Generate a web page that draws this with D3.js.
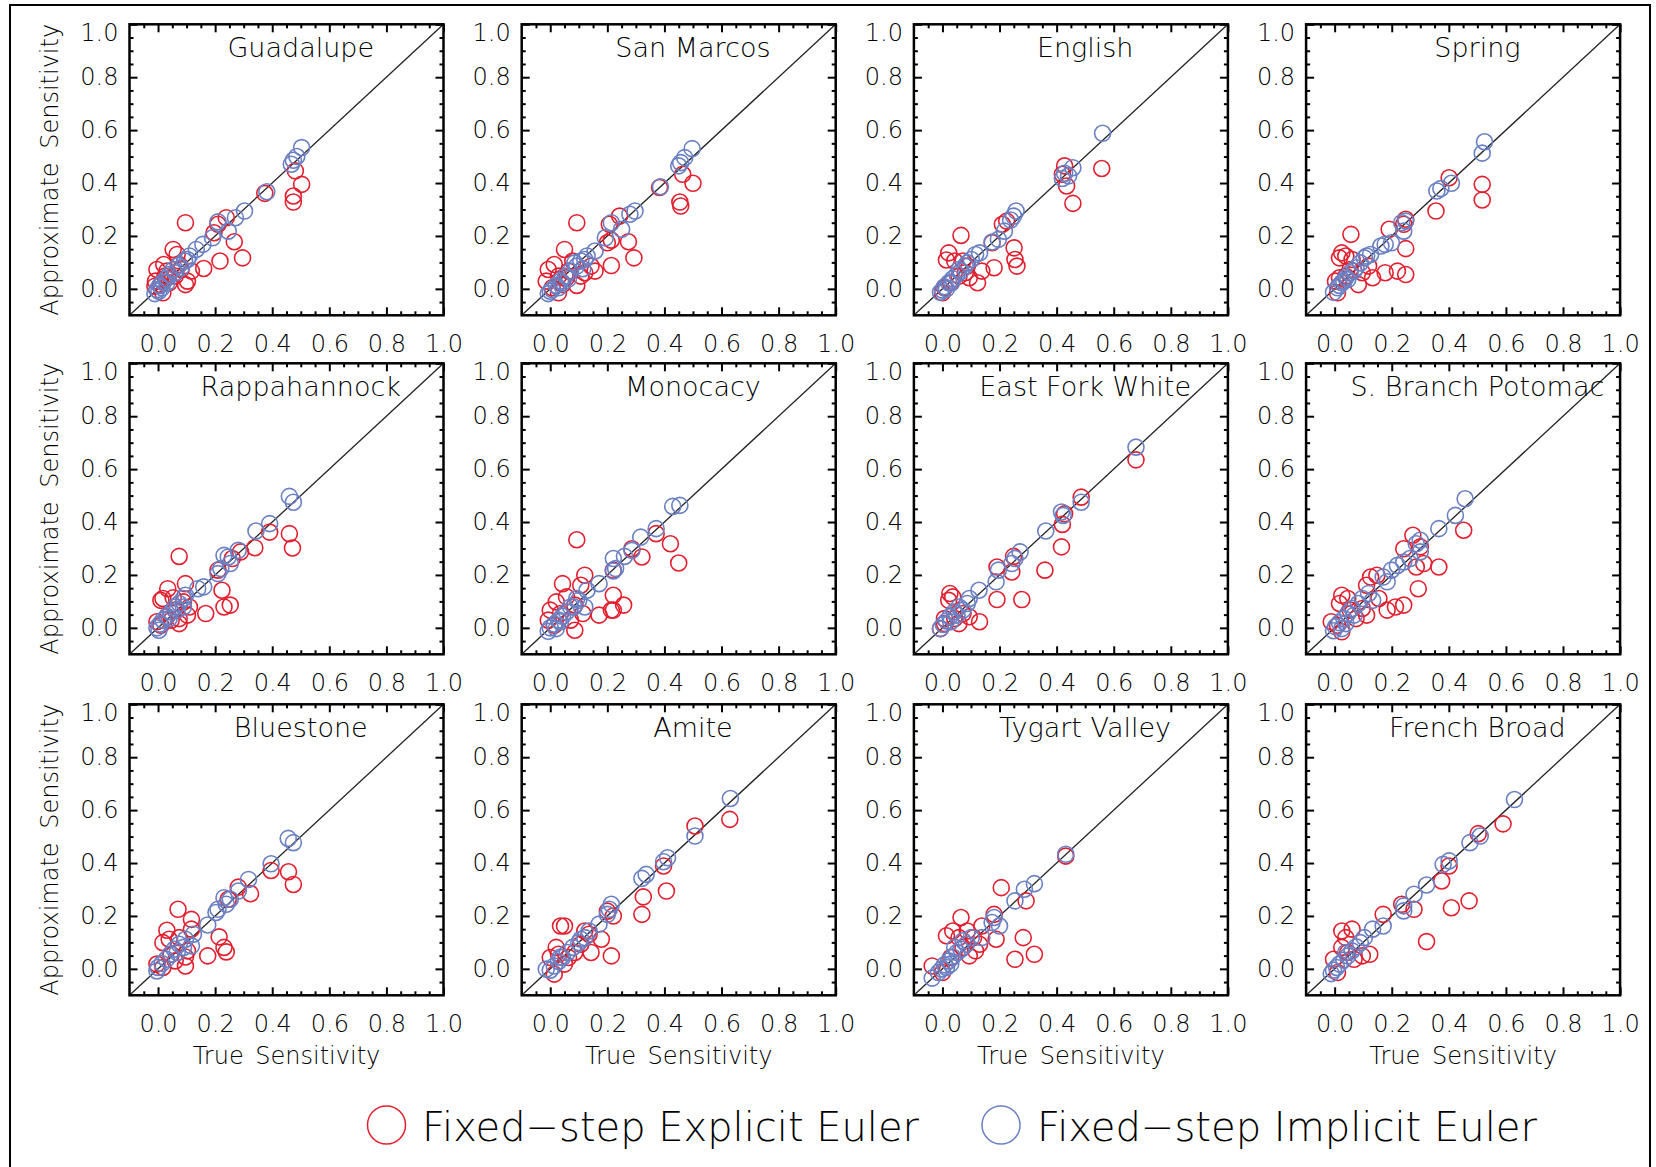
<!DOCTYPE html>
<html>
<head>
<meta charset="utf-8">
<script src="https://cdn.jsdelivr.net/npm/d3@7"></script>
<style>
  body { margin: 0; background: #fff; }
  svg text { font-family: "DejaVu Sans", sans-serif; font-weight: 200; fill: #000; }
</style>
</head>
<body>
<div id="chart"></div>
<script>
// river basins, one panel each (row by row)
var basins = ["Guadalupe", "San Marcos", "English", "Spring",
              "Rappahannock", "Monocacy", "East Fork White", "S. Branch Potomac",
              "Bluestone", "Amite", "Tygart Valley", "French Broad"];

var tickLabels = [0.0, 0.2, 0.4, 0.6, 0.8, 1.0];
var minorTicks = [-0.05, 0.05, 0.1, 0.15, 0.25, 0.3, 0.35, 0.45, 0.5, 0.55, 0.65, 0.7, 0.75, 0.85, 0.9, 0.95];

var seriesNames = ["Fixed\u2212step Explicit Euler", "Fixed\u2212step Implicit Euler"];

// [true sensitivity, approximate sensitivity] - explicit Euler
var explicitEuler = [
  [[0.096,0.250],[0.053,0.149],[0.217,0.105],[0.296,0.117],[0.267,0.178],[0.160,0.077],[0.096,0.016],[-0.004,0.073],[0.020,0.092],[0.024,0.048],[-0.009,0.029],[0.017,-0.015],[0.474,0.351],[0.474,0.328],[0.503,0.395],[0.481,0.446],[0.374,0.361],[0.210,0.244],[0.239,0.269],[0.117,0.067],[0.067,0.130],[0.039,0.023],[0.103,0.029],[0.060,0.048],[0.081,0.073],[0.010,0.016],[0.031,0.067],[-0.011,0.010],[0.196,0.212],[0.074,0.092]],
  [[0.093,0.250],[0.050,0.149],[0.214,0.088],[0.293,0.117],[0.274,0.178],[0.157,0.067],[0.093,0.013],[-0.007,0.073],[0.014,0.092],[0.029,0.048],[-0.014,0.029],[0.029,-0.015],[0.454,0.328],[0.457,0.313],[0.500,0.399],[0.464,0.433],[0.383,0.383],[0.207,0.244],[0.243,0.275],[0.214,0.184],[0.107,0.048],[0.064,0.067],[0.043,0.016],[0.121,0.061],[0.079,0.105],[0.007,0.004],[0.200,0.174],[0.143,0.086],[0.057,0.042]],
  [[0.065,0.202],[0.022,0.136],[0.014,0.109],[0.043,0.105],[0.181,0.080],[0.123,0.023],[0.138,0.067],[0.251,0.155],[0.254,0.111],[0.261,0.086],[0.210,0.244],[0.225,0.256],[0.428,0.465],[0.435,0.389],[0.457,0.323],[0.558,0.455],[0.080,0.061],[0.094,0.042],[0.007,0.004],[0.000,-0.015],[0.058,0.048],[0.029,0.023],[0.087,0.086],[0.420,0.433],[0.174,0.174],[0.072,0.105]],
  [[0.057,0.206],[0.025,0.136],[0.039,0.124],[0.017,0.117],[0.061,0.111],[0.177,0.061],[0.220,0.067],[0.249,0.054],[0.133,0.042],[0.083,0.016],[0.191,0.225],[0.242,0.244],[0.249,0.263],[0.249,0.152],[0.355,0.294],[0.401,0.420],[0.517,0.395],[0.517,0.336],[0.003,0.029],[0.017,0.042],[0.097,0.061],[0.039,0.048],[0.010,-0.015],[0.119,0.086],[0.054,0.073]],
  [[0.074,0.270],[0.034,0.148],[0.017,0.111],[0.096,0.167],[0.053,0.114],[0.224,0.142],[0.231,0.079],[0.253,0.086],[0.167,0.054],[0.103,0.048],[0.074,0.016],[0.339,0.303],[0.289,0.287],[0.260,0.262],[0.391,0.362],[0.460,0.356],[0.471,0.302],[0.210,0.218],[-0.004,0.023],[0.010,0.010],[0.031,0.042],[0.060,0.067],[0.089,0.098],[0.110,0.079],[0.046,0.029],[0.010,0.104],[0.074,0.035]],
  [[0.093,0.333],[0.043,0.167],[0.121,0.199],[0.107,0.161],[0.021,0.098],[0.057,0.117],[0.221,0.123],[0.221,0.067],[0.257,0.086],[0.171,0.048],[0.086,-0.009],[0.071,0.029],[0.321,0.268],[0.286,0.299],[0.371,0.356],[0.421,0.318],[0.450,0.245],[0.221,0.218],[0.214,0.067],[-0.007,0.029],[0.014,0.010],[0.036,0.054],[0.086,0.086],[0.114,0.054],[0.000,0.067]],
  [[0.678,0.635],[0.486,0.494],[0.420,0.391],[0.417,0.306],[0.359,0.218],[0.249,0.270],[0.243,0.211],[0.191,0.230],[0.191,0.107],[0.278,0.107],[0.026,0.130],[0.022,0.104],[0.036,0.117],[0.130,0.023],[0.094,0.042],[0.058,0.016],[0.007,0.016],[-0.007,-0.003],[0.072,0.054],[0.043,0.035],[0.428,0.431],[0.007,0.035]],
  [[0.452,0.369],[0.365,0.230],[0.312,0.243],[0.293,0.148],[0.300,0.306],[0.274,0.350],[0.242,0.299],[0.213,0.079],[0.184,0.067],[0.242,0.086],[0.148,0.199],[0.126,0.192],[0.112,0.161],[0.025,0.123],[0.017,0.092],[0.046,0.111],[0.112,0.048],[0.075,0.035],[0.010,0.010],[0.025,-0.015],[0.097,0.073],[0.054,0.067],[-0.012,0.023],[0.286,0.230],[0.155,0.111]],
  [[0.070,0.225],[0.117,0.187],[0.117,0.150],[0.031,0.146],[0.017,0.099],[0.039,0.112],[0.074,0.118],[0.214,0.121],[0.231,0.081],[0.239,0.064],[0.174,0.049],[0.096,0.011],[0.096,0.045],[0.060,0.030],[0.324,0.284],[0.281,0.309],[0.396,0.372],[0.457,0.367],[0.474,0.319],[-0.004,0.018],[0.017,0.005],[0.046,0.055],[0.103,0.068],[0.246,0.263]],
  [[0.036,0.162],[0.050,0.162],[0.021,0.081],[0.000,0.043],[0.014,-0.020],[0.143,0.062],[0.179,0.112],[0.214,0.049],[0.121,0.143],[0.221,0.200],[0.326,0.272],[0.321,0.206],[0.407,0.294],[0.397,0.389],[0.507,0.540],[0.629,0.565],[0.064,0.043],[0.050,0.018],[0.086,0.062],[0.107,0.093],[0.029,0.055],[0.136,0.131],[0.200,0.218]],
  [[0.432,0.426],[0.206,0.307],[0.293,0.257],[0.283,0.118],[0.322,0.055],[0.254,0.036],[0.188,0.112],[0.138,0.162],[0.065,0.194],[0.014,0.125],[0.036,0.143],[0.058,0.118],[0.109,0.118],[0.116,0.068],[-0.036,0.011],[0.029,0.043],[0.072,0.081],[0.000,-0.014],[0.087,0.143],[0.181,0.206],[0.094,0.049],[0.130,0.093]],
  [[0.590,0.548],[0.503,0.511],[0.471,0.257],[0.409,0.231],[0.375,0.332],[0.322,0.103],[0.278,0.225],[0.235,0.244],[0.170,0.206],[0.123,0.055],[0.097,0.049],[0.061,0.150],[0.025,0.143],[0.039,0.118],[-0.004,0.036],[0.010,-0.014],[0.046,0.062],[0.068,0.036],[0.401,0.389],[0.025,0.081]]
];

// [true sensitivity, approximate sensitivity] - implicit Euler
var implicitEuler = [
  [[0.503,0.534],[0.486,0.500],[0.474,0.486],[0.467,0.471],[0.381,0.367],[0.303,0.294],[0.271,0.269],[0.246,0.218],[0.210,0.253],[0.191,0.193],[0.157,0.168],[0.134,0.149],[0.110,0.124],[0.093,0.105],[0.071,0.088],[0.053,0.073],[0.039,0.054],[0.029,0.038],[0.017,0.025],[0.006,0.013],[-0.004,-0.003],[-0.011,-0.018],[0.081,0.080],[0.060,0.061],[0.031,0.023],[0.014,0.004],[0.103,0.111],[0.003,-0.009]],
  [[0.497,0.530],[0.471,0.496],[0.457,0.477],[0.450,0.465],[0.386,0.386],[0.297,0.294],[0.279,0.282],[0.250,0.225],[0.214,0.250],[0.193,0.193],[0.157,0.143],[0.129,0.124],[0.107,0.105],[0.093,0.086],[0.071,0.067],[0.054,0.048],[0.036,0.029],[0.021,0.013],[0.007,-0.003],[-0.007,-0.018],[0.086,0.098],[0.064,0.038],[0.043,0.023],[0.121,0.111],[0.029,0.004],[0.000,-0.009],[0.114,0.076]],
  [[0.561,0.588],[0.457,0.458],[0.428,0.437],[0.420,0.417],[0.442,0.427],[0.258,0.294],[0.249,0.275],[0.239,0.260],[0.217,0.218],[0.196,0.187],[0.174,0.177],[0.130,0.136],[0.101,0.111],[0.080,0.086],[0.065,0.067],[0.051,0.054],[0.036,0.038],[0.022,0.023],[0.007,0.008],[0.000,-0.005],[0.014,0.000],[0.032,0.023],[0.087,0.098],[0.116,0.130],[0.058,0.073],[-0.007,-0.013]],
  [[0.525,0.556],[0.517,0.513],[0.409,0.399],[0.372,0.379],[0.358,0.370],[0.249,0.256],[0.235,0.250],[0.242,0.218],[0.199,0.174],[0.177,0.168],[0.162,0.162],[0.126,0.130],[0.104,0.117],[0.090,0.098],[0.075,0.080],[0.054,0.061],[0.039,0.042],[0.025,0.023],[0.010,0.004],[-0.004,-0.013],[0.017,0.013],[0.068,0.067],[0.112,0.124],[0.046,0.035],[0.032,0.029]],
  [[0.460,0.497],[0.474,0.475],[0.391,0.394],[0.343,0.366],[0.281,0.293],[0.246,0.268],[0.231,0.274],[0.253,0.243],[0.220,0.224],[0.210,0.205],[0.160,0.155],[0.139,0.148],[0.096,0.123],[0.089,0.111],[0.074,0.092],[0.060,0.079],[0.046,0.060],[0.031,0.044],[0.017,0.029],[0.006,0.014],[-0.004,0.000],[0.003,-0.009],[0.089,0.079],[0.067,0.067],[0.039,0.035]],
  [[0.429,0.459],[0.454,0.463],[0.371,0.375],[0.317,0.343],[0.286,0.293],[0.260,0.270],[0.221,0.262],[0.229,0.224],[0.221,0.215],[0.171,0.167],[0.129,0.142],[0.121,0.079],[0.093,0.111],[0.071,0.079],[0.057,0.060],[0.043,0.044],[0.029,0.029],[0.014,0.014],[0.000,0.000],[-0.007,-0.013],[0.100,0.104],[0.083,0.079],[0.036,0.023],[0.021,-0.003]],
  [[0.678,0.683],[0.486,0.475],[0.417,0.438],[0.423,0.425],[0.362,0.366],[0.272,0.287],[0.254,0.262],[0.243,0.243],[0.196,0.218],[0.188,0.174],[0.128,0.142],[0.094,0.111],[0.087,0.092],[0.058,0.079],[0.041,0.060],[0.026,0.042],[0.014,0.026],[0.003,0.013],[-0.007,-0.003],[0.072,0.067],[0.051,0.048],[0.029,0.023]],
  [[0.457,0.488],[0.423,0.425],[0.365,0.375],[0.300,0.331],[0.286,0.318],[0.300,0.287],[0.264,0.262],[0.242,0.249],[0.220,0.236],[0.199,0.218],[0.170,0.192],[0.184,0.174],[0.133,0.104],[0.119,0.130],[0.097,0.111],[0.083,0.092],[0.061,0.073],[0.046,0.054],[0.032,0.035],[0.017,0.019],[0.003,0.004],[-0.004,-0.011],[0.039,0.016],[0.068,0.048],[0.025,-0.003]],
  [[0.456,0.493],[0.474,0.477],[0.396,0.397],[0.317,0.338],[0.281,0.294],[0.253,0.263],[0.231,0.269],[0.239,0.244],[0.210,0.225],[0.203,0.213],[0.174,0.166],[0.124,0.131],[0.117,0.087],[0.096,0.112],[0.074,0.093],[0.057,0.074],[0.043,0.055],[0.029,0.036],[0.014,0.020],[0.000,0.005],[-0.004,-0.008],[0.089,0.081],[0.067,0.062]],
  [[0.631,0.644],[0.507,0.502],[0.411,0.420],[0.397,0.405],[0.336,0.357],[0.321,0.342],[0.214,0.244],[0.207,0.225],[0.200,0.206],[0.171,0.169],[0.136,0.143],[0.121,0.118],[0.100,0.099],[0.079,0.081],[0.060,0.062],[0.043,0.043],[0.029,0.028],[0.014,0.011],[0.000,-0.005],[-0.014,-0.001],[0.036,0.045],[0.107,0.112]],
  [[0.432,0.433],[0.322,0.322],[0.287,0.301],[0.254,0.257],[0.200,0.162],[0.181,0.194],[0.174,0.175],[0.138,0.118],[0.101,0.118],[0.084,0.093],[0.065,0.074],[0.051,0.062],[0.036,0.045],[0.022,0.030],[0.007,0.015],[-0.003,-0.001],[-0.036,-0.035],[-0.014,-0.014],[0.072,0.106],[0.043,0.081],[0.014,0.005],[0.029,0.018]],
  [[0.630,0.640],[0.510,0.502],[0.474,0.477],[0.401,0.408],[0.380,0.395],[0.322,0.317],[0.278,0.282],[0.242,0.238],[0.242,0.219],[0.170,0.162],[0.133,0.150],[0.104,0.118],[0.075,0.083],[0.061,0.068],[0.046,0.049],[0.032,0.033],[0.017,0.018],[0.007,0.005],[-0.012,-0.018],[-0.004,-0.005],[0.039,0.062],[0.090,0.099]]
];

var red = "#e21f2f", blue = "#6a80c4";

var width = 1656, height = 1167;
var pw = 314, ph = 291;
var left0 = 129.5, colStep = 392.2;
var rowTops = [24.3, 363.3, 704.3];

var svg = d3.select("#chart").append("svg")
    .attr("width", width)
    .attr("height", height);

// outer frame (open at the bottom edge)
svg.append("path")
    .attr("d", "M10,1167 L10,5 L1650,5 L1650,1167")
    .attr("fill", "none")
    .attr("stroke", "#000")
    .attr("stroke-width", 2);

var x = d3.scaleLinear().domain([-0.1, 1.0]).range([0, pw]);
var y = d3.scaleLinear().domain([-0.1, 1.0]).range([ph, 0]);
var fmt = d3.format(".1f");

basins.forEach(function(name, i) {
    var col = i % 4, row = Math.floor(i / 4);
    var g = svg.append("g")
        .attr("transform", "translate(" + (left0 + col * colStep) + "," + rowTops[row] + ")");

    // axes: labelled bottom / left, bare top / right, all ticks inward
    function addAxis(axisFn, tx, ty, labelled) {
        var horiz = axisFn === d3.axisBottom || axisFn === d3.axisTop;
        var major = g.append("g").attr("transform", "translate(" + tx + "," + ty + ")")
            .call(axisFn(horiz ? x : y)
                .tickValues(tickLabels).tickSize(-8).tickPadding(axisFn === d3.axisBottom ? 20 : 11)
                .tickFormat(labelled ? fmt : ""));
        var minor = g.append("g").attr("transform", "translate(" + tx + "," + ty + ")")
            .call(axisFn(horiz ? x : y)
                .tickValues(minorTicks).tickSize(-4).tickFormat(""));
        [major, minor].forEach(function(a) {
            a.select(".domain").remove();
            a.selectAll(".tick line").attr("stroke", "#000").attr("stroke-width", 2);
        });
        major.selectAll("text").attr("font-size", 24).style("font-family", "DejaVu Sans")
            .style("font-weight", 200).attr("fill", "#000");
        // IDL nudges the top y label down inside the frame
        if (axisFn === d3.axisLeft) {
            major.selectAll(".tick text").filter(function(d) { return d === 1.0; })
                .attr("y", 9);
        }
    }
    addAxis(d3.axisBottom, 0, ph, true);
    addAxis(d3.axisLeft, 0, 0, true);
    addAxis(d3.axisTop, 0, 0, false);
    addAxis(d3.axisRight, pw, 0, false);

    // 1:1 line
    g.append("line")
        .attr("x1", x(-0.1)).attr("y1", y(-0.1))
        .attr("x2", x(1.0)).attr("y2", y(1.0))
        .attr("stroke", "#222").attr("stroke-width", 1.3);

    g.selectAll("circle.exp").data(explicitEuler[i]).enter()
        .append("circle").attr("class", "exp")
        .attr("cx", function(d) { return x(d[0]); })
        .attr("cy", function(d) { return y(d[1]); })
        .attr("r", 8)
        .attr("fill", "none").attr("stroke", red).attr("stroke-width", 1.6);

    g.selectAll("circle.imp").data(implicitEuler[i]).enter()
        .append("circle").attr("class", "imp")
        .attr("cx", function(d) { return x(d[0]); })
        .attr("cy", function(d) { return y(d[1]); })
        .attr("r", 8)
        .attr("fill", "none").attr("stroke", blue).attr("stroke-width", 1.6);

    g.append("rect")
        .attr("width", pw).attr("height", ph)
        .attr("fill", "none").attr("stroke", "#000").attr("stroke-width", 2.5);

    g.append("text")
        .attr("x", x(0.5)).attr("y", y(0.875))
        .attr("text-anchor", "middle")
        .attr("font-size", 27)
        .text(name);

    if (col === 0) {
        g.append("text")
            .attr("transform", "translate(-72," + (ph / 2) + ") rotate(-90)")
            .attr("text-anchor", "middle")
            .attr("font-size", 24)
            .attr("word-spacing", 6)
            .text("Approximate Sensitivity");
    }
    if (row === 2) {
        g.append("text")
            .attr("x", pw / 2).attr("y", ph + 69)
            .attr("text-anchor", "middle")
            .attr("font-size", 24)
            .attr("word-spacing", 4)
            .text("True Sensitivity");
    }
});

// legend
var legend = svg.append("g");
[[386.5, red, 422, 497], [1001, blue, 1037, 500]].forEach(function(l, i) {
    legend.append("circle")
        .attr("cx", l[0]).attr("cy", 1125).attr("r", 19)
        .attr("fill", "none").attr("stroke", l[1]).attr("stroke-width", 1.5);
    legend.append("text")
        .attr("x", l[2]).attr("y", 1141)
        .attr("font-size", 40)
        .attr("textLength", l[3]).attr("lengthAdjust", "spacingAndGlyphs")
        .text(seriesNames[i]);
});
</script>
</body>
</html>
